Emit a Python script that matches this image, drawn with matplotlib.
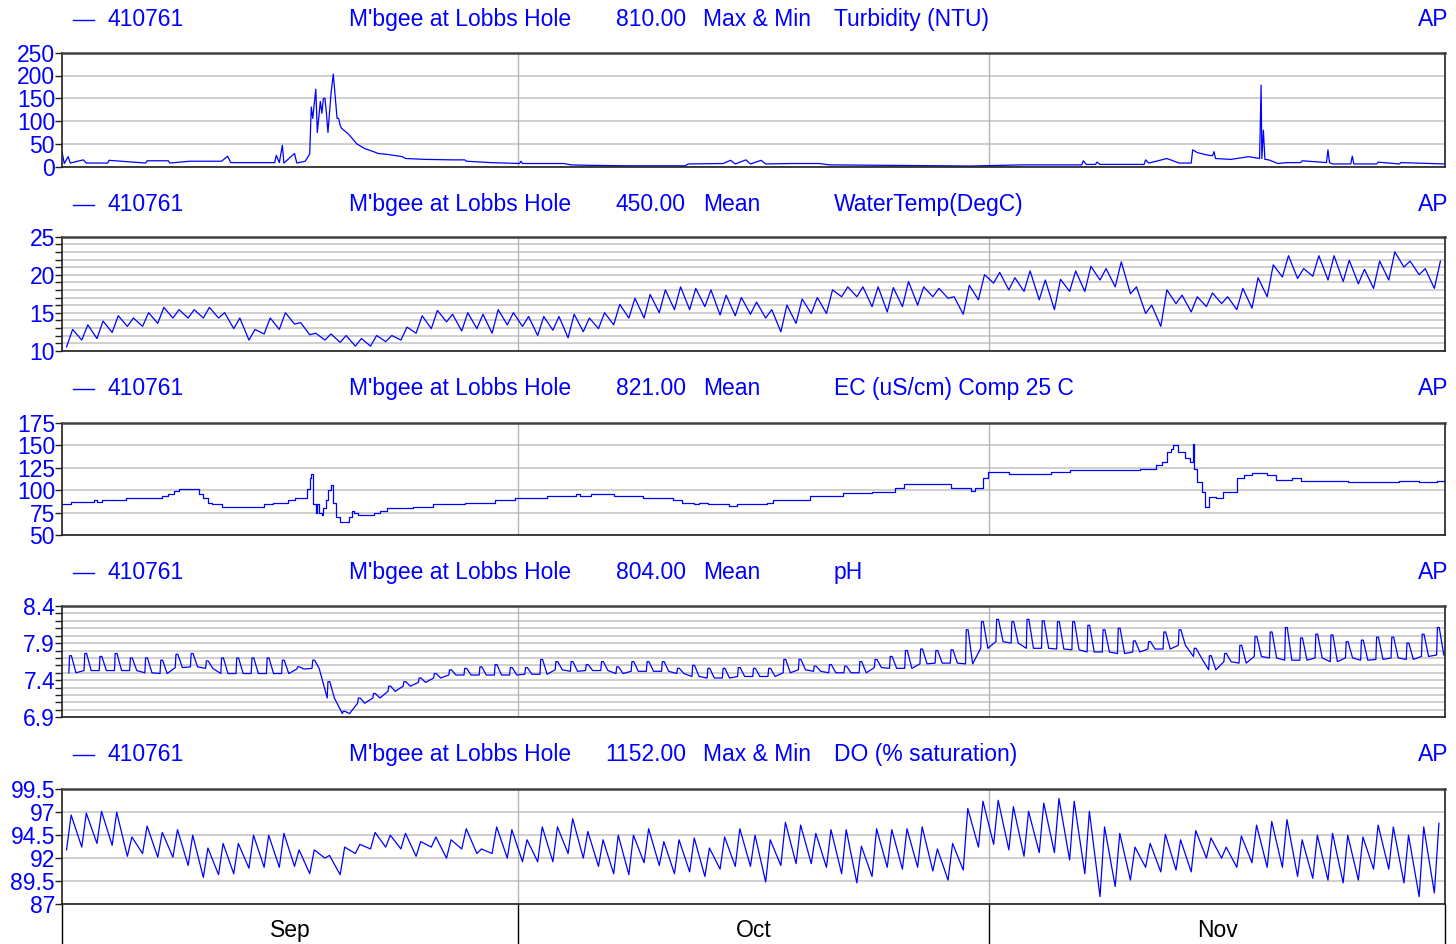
import numpy as np
import matplotlib.pyplot as plt
from matplotlib.lines import Line2D

# time axis: days since 1 Sep (Sep 1 .. Dec 1)
month_edges = [0, 30, 61, 91]
month_mid = [15, 45.5, 76]
month_names = ['Sep', 'Oct', 'Nov']

# Turbidity (NTU) - (day, value)
turb_t = [0.0, 0.15, 0.4, 0.55, 1.4, 1.6, 3.0, 3.1, 5.5, 5.6, 7.0, 7.1, 8.4, 10.5, 10.9, 11.1,
          14.0, 14.1, 14.3, 14.5, 14.6, 15.3, 15.45, 16.0, 16.3, 16.4, 16.5, 16.7, 16.8, 17.0,
          17.1, 17.2, 17.3, 17.4, 17.5, 17.7, 17.85, 18.1, 18.2, 18.3, 18.4, 18.8, 19.1, 19.4,
          19.9, 20.5, 20.8, 21.4, 22.4, 22.6, 23.9, 25.7, 26.5, 26.6, 28.2, 30.1, 30.2, 30.3,
          33.0, 33.5, 34.7, 37.2, 41.0, 41.2, 43.5, 44.0, 44.3, 45.0, 45.3, 46.0, 46.3, 48.0,
          49.8, 50.5, 59.8, 63.2, 67.1, 67.2, 67.4, 68.0, 68.1, 68.3, 71.2, 71.3, 71.5, 72.0,
          72.7, 73.5, 74.3, 74.4, 74.7, 75.3, 75.7, 75.8, 75.9, 76.9, 78.1, 78.8, 78.9, 78.95,
          79.05, 79.15, 79.4, 80.0, 80.6, 81.5, 81.6, 83.2, 83.3, 83.4, 83.6, 84.8, 84.9, 85.0,
          86.5, 86.6, 88.0, 88.1, 91.0]
turb_v = [33, 7, 22, 8, 15, 8, 8, 14, 8, 13, 13, 8, 12, 12, 23, 9,
          9, 25, 9, 47, 8, 29, 8, 12, 28, 131, 106, 170, 75, 143,
          117, 150, 150, 117, 75, 160, 203, 106, 106, 91, 84, 73, 62, 50,
          40, 33, 29, 27, 22, 18, 16, 15, 15, 12, 9, 7, 12, 7,
          7, 4, 3, 2, 2, 6, 7, 14, 6, 15, 6, 14, 6, 7,
          7, 4, 1.5, 4, 4, 13, 5, 5, 10, 5, 5, 15, 8, 12,
          18, 8, 8, 37, 31, 26, 24, 33, 18, 16, 22, 18, 179, 18,
          80, 16, 15, 7, 9, 9, 13, 9, 37, 9, 6, 6, 23, 6,
          6, 10, 6, 9, 6]

# Water temperature (DegC) - daily minimum / maximum
temp_min = [10.5, 11.4, 11.6, 12.4, 13.2, 13.2, 13.6, 14.3, 14.3, 14.3,
            14.3, 12.9, 11.4, 12.2, 12.8, 13.5, 12.1, 11.4, 11.1, 10.6,
            10.6, 11.2, 11.4, 12.3, 12.9, 13.8, 12.6, 12.9, 12.3, 13.4,
            13.2, 12.0, 12.7, 11.7, 12.5, 12.9, 13.4, 14.3, 14.3, 15.0,
            15.4, 15.4, 15.8, 14.7, 14.6, 14.8, 14.3, 12.5, 13.6, 14.9,
            14.9, 17.1, 17.1, 15.8, 15.1, 15.8, 16.0, 17.1, 16.9, 14.8,
            16.7, 18.9, 18.0, 17.8, 16.7, 15.4, 17.8, 17.8, 19.3, 18.4,
            17.5, 14.9, 13.2, 16.2, 15.1, 15.8, 16.2, 15.4, 15.6, 17.1,
            19.7, 19.5, 19.8, 19.3, 19.1, 18.8, 18.2, 19.3, 21.0, 20.0,
            18.2]
temp_max = [12.8, 13.4, 13.9, 14.6, 14.3, 15.0, 15.7, 15.4, 15.4, 15.7,
            15.0, 14.3, 12.8, 14.3, 15.0, 13.7, 12.3, 12.2, 12.0, 11.6,
            12.0, 12.0, 13.1, 14.6, 15.3, 14.8, 15.0, 14.8, 15.4, 15.0,
            14.5, 14.5, 14.5, 14.8, 14.3, 15.0, 16.1, 16.9, 17.4, 18.0,
            18.4, 18.2, 18.0, 17.3, 17.0, 16.4, 15.4, 16.0, 16.8, 17.0,
            18.0, 18.4, 18.4, 18.4, 18.3, 19.1, 18.4, 18.2, 17.1, 18.6,
            20.0, 20.3, 19.6, 20.5, 19.3, 19.4, 20.5, 21.1, 20.8, 21.7,
            18.4, 16.0, 18.0, 17.3, 17.1, 17.6, 17.1, 18.2, 19.6, 21.3,
            22.5, 20.8, 22.5, 22.5, 21.9, 20.7, 21.8, 23.0, 21.8, 20.8,
            21.8]

# EC (uS/cm) Comp 25 C - (day, value), stepped
ec_t = [0.0, 0.6, 2.1, 2.3, 2.6, 4.2, 6.6, 6.95, 7.4, 7.7, 9.0, 9.3, 9.6, 9.9, 10.5,
        13.3, 13.9, 14.9, 15.3, 16.1, 16.3, 16.4, 16.5, 16.7, 16.8, 16.9, 17.1, 17.2, 17.4,
        17.5, 17.7, 17.8, 18.0, 18.3, 18.9, 19.1, 19.2, 19.5, 20.5, 20.9, 21.4, 23.1, 24.4,
        26.5, 28.5, 29.8, 31.9, 33.8, 34.1, 34.8, 36.3, 38.2, 40.2, 40.8, 41.6, 41.9, 42.5,
        43.9, 44.4, 46.4, 46.8, 49.2, 51.4, 53.3, 54.8, 55.4, 58.5, 59.8, 60.1, 60.6, 60.9,
        62.3, 65.1, 66.3, 70.9, 72.0, 72.4, 72.7, 73.0, 73.1, 73.4, 73.9, 74.2, 74.4, 74.5,
        74.7, 75.0, 75.2, 75.5, 75.9, 76.4, 77.3, 77.8, 78.3, 79.3, 79.9, 80.9, 81.5, 84.6,
        88.0, 89.3, 90.5, 91.0]
ec_v = [84, 87, 89, 87, 89, 91.6, 93.8, 96, 99, 101, 96, 91.6, 86, 84, 81.5,
        84, 86, 89, 91.6, 101, 113, 117.5, 85, 74, 85, 74, 72, 80, 89,
        100, 105.7, 86, 70, 65, 70, 77, 74, 72, 75, 77, 80, 81.5, 84,
        86, 89, 91.6, 93.8, 96, 93.8, 96, 93.8, 91.6, 89, 86, 84, 86, 84,
        82, 85, 86, 89, 93.8, 96.4, 98, 102, 106.4, 102, 99, 102, 113, 120.5,
        117.5, 120, 122, 123.8, 128, 131.6, 142.8, 145.7, 150, 142.8, 135.3, 131.6, 151, 124,
        109.4, 98, 81.5, 92.7, 91, 98, 113, 116.8, 119.4, 116.8, 111, 113, 110, 108.6,
        110, 108.6, 110, 111]

# pH - daily minimum / maximum
ph_min = [7.50, 7.53, 7.53, 7.53, 7.53, 7.50, 7.49, 7.57, 7.58, 7.56,
          7.49, 7.49, 7.49, 7.49, 7.49, 7.55, 7.56, 7.16, 6.95, 7.09,
          7.16, 7.25, 7.32, 7.37, 7.43, 7.47, 7.47, 7.47, 7.47, 7.47,
          7.48, 7.48, 7.54, 7.52, 7.53, 7.53, 7.49, 7.52, 7.52, 7.52,
          7.49, 7.45, 7.43, 7.43, 7.45, 7.45, 7.45, 7.50, 7.54, 7.52,
          7.50, 7.50, 7.50, 7.57, 7.56, 7.56, 7.62, 7.63, 7.63, 7.62,
          7.83, 7.92, 7.90, 7.83, 7.83, 7.82, 7.81, 7.78, 7.78, 7.76,
          7.78, 7.82, 7.82, 7.87, 7.72, 7.54, 7.65, 7.63, 7.72, 7.70,
          7.67, 7.67, 7.70, 7.65, 7.70, 7.67, 7.68, 7.70, 7.68, 7.72,
          7.74]
ph_max = [7.73, 7.76, 7.72, 7.76, 7.70, 7.70, 7.67, 7.75, 7.76, 7.66,
          7.70, 7.70, 7.70, 7.70, 7.67, 7.58, 7.67, 7.38, 6.98, 7.16,
          7.22, 7.32, 7.38, 7.43, 7.49, 7.54, 7.56, 7.58, 7.61, 7.57,
          7.57, 7.68, 7.65, 7.65, 7.61, 7.65, 7.58, 7.65, 7.65, 7.65,
          7.56, 7.60, 7.56, 7.56, 7.57, 7.56, 7.56, 7.68, 7.68, 7.59,
          7.61, 7.59, 7.65, 7.68, 7.72, 7.80, 7.82, 7.80, 7.81, 8.08,
          8.19, 8.22, 8.19, 8.22, 8.20, 8.19, 8.19, 8.14, 8.08, 8.10,
          7.93, 7.92, 8.05, 8.08, 7.83, 7.73, 7.76, 7.87, 7.99, 8.05,
          8.11, 7.97, 8.02, 8.01, 7.92, 7.94, 7.98, 7.98, 7.90, 8.02,
          8.11]

# DO (% saturation) - daily minimum / maximum
do_min = [92.9, 93.2, 93.6, 93.4, 92.2, 92.5, 92.1, 92.1, 91.2, 89.9,
          90.2, 90.3, 90.9, 91.0, 91.0, 91.1, 90.3, 92.0, 90.2, 92.5,
          93.0, 93.2, 93.0, 92.2, 93.2, 92.0, 93.0, 92.5, 92.5, 92.0,
          91.6, 91.6, 91.6, 92.5, 92.0, 91.1, 90.3, 90.2, 91.5, 91.2,
          90.3, 90.5, 90.0, 90.8, 91.1, 91.1, 89.4, 91.2, 91.4, 91.4,
          91.0, 90.3, 89.3, 90.0, 91.0, 90.8, 91.0, 90.6, 89.6, 90.7,
          93.2, 93.5, 92.9, 92.2, 92.6, 92.6, 91.8, 90.3, 87.8, 88.9,
          89.6, 91.0, 90.5, 90.7, 90.5, 92.0, 92.0, 91.0, 91.5, 91.0,
          91.0, 90.0, 89.8, 89.6, 89.3, 89.6, 90.8, 90.8, 89.3, 87.8,
          88.2]
do_max = [96.7, 96.9, 97.1, 97.0, 94.3, 95.5, 94.8, 95.1, 94.5, 93.1,
          93.6, 93.6, 94.5, 94.5, 94.7, 92.9, 92.9, 92.3, 93.2, 93.5,
          94.8, 94.5, 94.7, 93.8, 94.3, 94.0, 95.2, 93.0, 95.4, 95.1,
          94.0, 95.4, 95.4, 96.3, 94.9, 94.0, 94.5, 94.5, 95.2, 93.8,
          94.0, 94.2, 93.1, 94.3, 95.2, 94.5, 94.0, 95.9, 95.6, 94.7,
          95.1, 95.1, 93.3, 95.2, 95.1, 95.2, 95.4, 93.0, 93.6, 97.4,
          98.2, 98.3, 97.6, 97.1, 98.0, 98.5, 98.2, 97.1, 95.4, 94.7,
          93.2, 93.6, 94.6, 94.0, 95.0, 94.2, 93.2, 94.4, 95.6, 96.0,
          96.2, 94.0, 94.5, 94.7, 94.5, 94.3, 95.6, 95.4, 94.5, 95.4,
          95.8]


def diurnal(lo, hi, shape):
    # shape: list of (time of day, take daily max?) giving the order of the day's points
    lo, hi = np.asarray(lo), np.asarray(hi)
    d = np.arange(len(lo))
    t = np.column_stack([d + off for off, _ in shape]).ravel()
    v = np.column_stack([hi if top else lo for _, top in shape]).ravel()
    keep = (t >= 0) & (t <= 91)
    return t[keep], v[keep]


W, H = 1456, 944
BLUE = '#0000ff'
FS = 16.5
plt.rcParams['font.family'] = ['Liberation Sans', 'DejaVu Sans']
fig = plt.figure(figsize=(W / 100, H / 100), dpi=100)

panels = [
    # top, bottom, ylim, major, labels, minor, header baseline, value, stat, parameter
    (52.7, 166.7, (0, 250), [0, 50, 100, 150, 200, 250], None, None, 26.0,
     '810.00', 'Max & Min', 'Turbidity (NTU)'),
    (236.7, 350.7, (10, 25), [10, 15, 20, 25], None, np.arange(10, 26, 1), 211.0,
     '450.00', 'Mean', 'WaterTemp(DegC)'),
    (422.7, 535.0, (50, 175), [50, 75, 100, 125, 150, 175], None, None, 395.0,
     '821.00', 'Mean', 'EC (uS/cm) Comp 25 C'),
    (606.0, 717.3, (6.9, 8.4), [6.9, 7.4, 7.9, 8.4], ['6.9', '7.4', '7.9', '8.4'],
     np.arange(69, 85) / 10, 579.3, '804.00', 'Mean', 'pH'),
    (789.3, 904.0, (87, 99.5), [87, 89.5, 92, 94.5, 97, 99.5],
     ['87', '89.5', '92', '94.5', '97', '99.5'], None, 761.0,
     '1152.00', 'Max & Min', 'DO (% saturation)'),
]

axes = []
for top, bot, ylim, major, labels, minor, base, val, stat, par in panels:
    ax = fig.add_axes([62 / W, 1 - bot / H, (1445 - 62) / W, (bot - top) / H])
    ax.set_xlim(0, 91)
    ax.set_ylim(*ylim)
    ax.set_yticks(major)
    if labels:
        ax.set_yticklabels(labels)
    grid_levels = major if minor is None else minor
    if minor is not None:
        ax.set_yticks(minor, minor=True)
    for g in grid_levels:
        ax.axhline(g, color='#cccccc', lw=1.3, zorder=0)
    for m in month_edges[1:-1]:
        ax.axvline(m, color='#b4b4b4', lw=1.0, zorder=0)
    ax.tick_params(axis='y', which='both', direction='out', length=5, width=1,
                   color='#202020', labelcolor=BLUE, labelsize=FS, pad=0)
    ax.tick_params(axis='x', which='both', bottom=False, labelbottom=False)
    for s in ax.spines.values():
        s.set_color('#202020')
        s.set_linewidth(1.2)
    ax.spines['top'].set_color('#404040')
    ax.spines['top'].set_linewidth(1.8)

    yb = 1 - base / H
    fig.add_artist(Line2D([73 / W, 94 / W], [1 - (base - 6) / H] * 2, color=BLUE, lw=1))
    fig.text(107 / W, yb, '410761', color=BLUE, fontsize=FS, va='baseline')
    fig.text(349 / W, yb, "M'bgee at Lobbs Hole", color=BLUE, fontsize=FS, va='baseline')
    fig.text(686 / W, yb, val, color=BLUE, fontsize=FS, va='baseline', ha='right')
    fig.text(703 / W, yb, stat, color=BLUE, fontsize=FS, va='baseline')
    fig.text(834 / W, yb, par, color=BLUE, fontsize=FS, va='baseline')
    fig.text(1448 / W, yb, 'AP', color=BLUE, fontsize=FS, va='baseline', ha='right')
    axes.append(ax)

ax1, ax2, ax3, ax4, ax5 = axes

ax1.plot(turb_t, turb_v, color=BLUE, lw=0.9)

t, v = diurnal(temp_min, temp_max, [(0.3, False), (0.7, True)])
ax2.plot(t, v, color=BLUE, lw=0.9)

ax3.plot(ec_t, ec_v, color=BLUE, lw=0.9, drawstyle='steps-post')

t, v = diurnal(ph_min, ph_max, [(0.45, False), (0.5, True), (0.62, True), (0.92, False)])
ax4.plot(t, v, color=BLUE, lw=0.9)

t, v = diurnal(do_min, do_max, [(0.3, False), (0.6, True)])
ax5.plot(t, v, color=BLUE, lw=0.9)

# month strip below the last panel
ax5.set_xticks(month_edges)
ax5.set_xticklabels([])
ax5.set_xticks(month_mid, minor=True)
ax5.set_xticklabels(month_names, minor=True)
ax5.tick_params(axis='x', which='major', bottom=True, length=29, width=1, color='black')
ax5.tick_params(axis='x', which='minor', bottom=True, length=0, labelbottom=True,
                labelsize=FS, labelcolor='black', pad=10.5)

fig.savefig('out.png', dpi=100)
